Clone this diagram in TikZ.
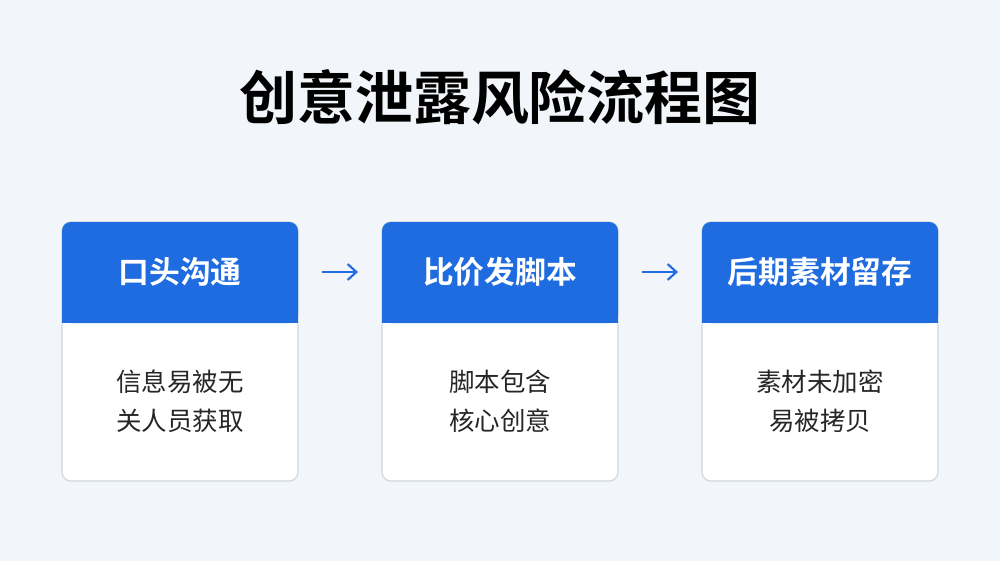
\documentclass[tikz,border=0pt]{standalone}
\usepackage{fontspec}
\setmainfont{Noto Sans CJK SC}
\newfontfamily\cjkb{Noto Sans CJK SC Bold}
\usetikzlibrary{arrows.meta}
\definecolor{hblue}{HTML}{1F6BE0}
\definecolor{bg}{HTML}{F2F5F9}
\definecolor{bord}{HTML}{CDD6E2}
\begin{document}
\begin{tikzpicture}[x=0.02cm,y=-0.02cm,
  card/.style={draw=bord,line width=0.6pt,fill=white,rounded corners=5pt},
  head/.style={fill=hblue,rounded corners=5pt},
  htext/.style={text=white,font=\cjkb\fontsize{17.5}{20}\selectfont},
  btext/.style={text=black!85,font=\fontsize{14.5}{22}\selectfont,align=center},
  arr/.style={-{Straight Barb[length=5pt,width=9pt]},hblue,line width=1.2pt}]
\fill[bg] (0,0) rectangle (1000,561);
\useasboundingbox (0,0) rectangle (1000,561);
\node[font=\cjkb\fontsize{33}{36}\selectfont] (title) at (500,97) {创意泄露风险流程图};
\foreach \i/\x/\h/\b in {1/62/口头沟通/{信息易被无\\关人员获取},2/382/比价发脚本/{脚本包含\\核心创意},3/702/后期素材留存/{素材未加密\\易被拷贝}}{
  \draw[card] (\x,222) rectangle ++(236,259);
  \fill[head] (\x,222) rectangle ++(236,101);
  \fill[hblue] (\x,300) rectangle ++(236,23);
  \node[htext] (h\i) at (\x+118,272) {\h};
  \node[btext] (b\i) at (\x+118,401) {\b};
}
\coordinate (a1) at (322,272); \coordinate (a2) at (358,272);
\coordinate (c1) at (642,272); \coordinate (c2) at (678,272);
\draw[arr] (a1) -- (a2);
\draw[arr] (c1) -- (c2);
\end{tikzpicture}
\end{document}
